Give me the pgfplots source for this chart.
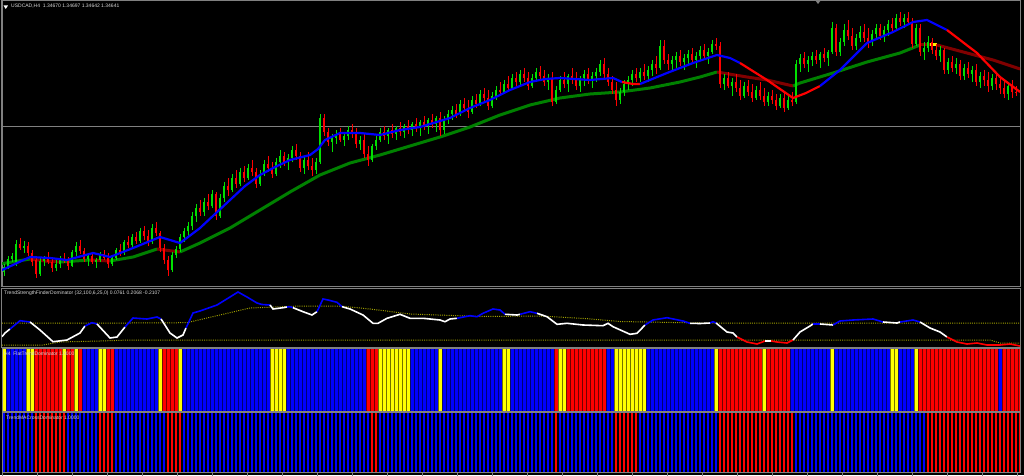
\documentclass[border=0pt]{standalone}
\usepackage{pgfplots}
\pgfplotsset{compat=1.18}
\usepackage{pgfplotstable}
\usepackage{fontspec}
\setmainfont{Liberation Sans}
\definecolor{cgreen}{RGB}{0,225,0}
\definecolor{cred}{RGB}{255,0,0}
\definecolor{mablue}{RGB}{0,0,255}
\definecolor{magreen}{RGB}{0,128,0}
\definecolor{madred}{RGB}{128,0,0}
\definecolor{fr}{RGB}{128,128,128}
\definecolor{lvl}{RGB}{160,160,0}
\definecolor{barblue}{RGB}{0,0,255}
\definecolor{barred}{RGB}{255,0,0}
\definecolor{baryel}{RGB}{255,255,0}
\definecolor{txt}{RGB}{215,215,215}
\pgfdeclareplotmark{nomark}{}
\pgfplotsset{
  panel/.style={
    x=1pt, xmin=2, xmax=1020,
    axis line style={fr, line width=1pt},
    anchor=south west,
    ytick=\empty,
    xtick=\empty,
    clip=true,
  },
  runs/.style={ybar interval, draw=none, fill=#1},
  candle/.style n args={3}{only marks, mark=nomark,
    restrict expr to domain={\thisrow{c}-\thisrow{o}}{#2},
    error bars/.cd, y dir=both, y explicit, error mark=none,
    error bar style={#1, line width=#3}},
}

\pgfplotstableread{
x o h l c
4 14 22 10 19
8 19 30 17 27
12 27 33 24 30
16 24 46 20 42
20 42 48 36 38
24 38 45 33 40
28 40 44 30 33
32 33 36 20 24
36 26 30 8 12
40 12 28 10 25
44 25 30 20 28
48 28 34 22 24
52 24 28 14 18
56 18 26 15 22
60 22 30 18 27
64 27 33 23 25
68 25 29 16 20
72 20 36 19 34
76 34 44 30 40
80 40 46 32 35
84 35 38 24 27
88 27 32 20 30
92 30 34 22 24
96 24 28 18 26
100 26 34 24 32
104 32 36 26 28
108 28 33 18 22
112 22 30 20 28
116 28 38 26 36
120 36 42 30 33
124 33 46 31 44
128 44 50 38 41
132 41 52 39 49
136 49 54 42 45
140 45 58 43 55
144 55 60 46 50
148 50 56 40 44
152 44 62 42 58
156 58 64 50 53
160 53 55 34 38
164 38 42 22 26
168 26 30 10 16
172 16 34 14 31
176 31 40 28 37
180 37 52 34 49
184 49 58 44 55
188 55 64 50 60
192 60 74 56 70
196 70 82 64 78
200 78 86 70 74
204 74 88 70 84
208 84 92 76 80
212 80 96 78 92
216 92 94 66 70
220 70 92 68 88
224 88 104 84 100
228 100 108 90 96
232 96 112 94 108
236 108 116 98 102
240 102 118 100 114
244 114 120 104 108
248 108 122 106 118
252 118 126 110 114
256 114 118 98 102
260 102 116 100 112
264 112 126 110 122
268 122 130 114 118
272 118 124 108 112
276 112 128 110 124
280 124 136 118 130
284 130 134 120 124
288 124 132 116 128
292 128 140 124 136
296 136 142 126 130
300 130 134 114 118
304 118 130 112 126
308 126 134 116 120
312 120 128 110 116
316 116 128 112 124
320 124 172 122 168
324 168 172 150 154
328 154 158 140 144
332 144 152 134 148
336 148 156 142 152
340 152 158 144 146
344 146 154 140 150
348 150 160 146 156
352 156 162 148 152
356 152 158 138 142
360 142 150 136 146
364 146 152 128 132
368 132 140 120 126
372 126 142 124 140
376 140 150 136 146
380 146 158 144 154
384 154 160 146 150
388 150 158 142 156
392 156 162 148 152
396 152 160 146 158
400 158 164 150 154
404 154 162 148 160
408 160 166 152 156
412 156 164 150 162
416 162 168 154 158
420 158 166 150 164
424 164 170 156 160
428 160 168 152 166
432 166 172 158 162
436 162 170 154 168
440 168 174 150 156
444 156 170 152 166
448 166 176 162 172
452 172 180 166 176
456 176 182 168 172
460 172 186 170 182
464 182 188 174 178
468 178 186 168 174
472 174 190 172 186
476 186 192 178 182
480 182 196 180 192
484 192 198 184 188
488 188 196 176 180
492 180 194 178 190
496 190 200 186 196
500 196 204 190 194
504 194 206 192 202
508 202 210 196 198
512 198 212 196 208
516 208 214 200 204
520 204 216 200 212
524 212 218 204 208
528 208 214 196 200
532 200 212 198 208
536 208 218 204 214
540 214 220 206 210
544 210 216 200 204
548 204 212 196 208
552 208 214 180 184
556 184 200 182 196
560 196 210 194 206
564 206 214 198 202
568 202 212 194 210
572 210 218 202 206
576 206 214 196 200
580 200 210 194 208
584 208 216 200 212
588 212 218 202 206
592 206 214 198 210
596 210 218 204 214
600 214 226 210 222
604 222 228 208 212
608 212 218 200 204
612 204 210 192 196
616 196 204 180 186
620 186 198 182 194
624 194 206 190 202
628 202 210 196 206
632 206 216 200 212
636 212 218 204 208
640 208 218 204 214
644 214 222 206 210
648 210 220 204 216
652 216 226 210 222
656 222 230 212 218
660 218 246 216 240
664 240 246 222 226
668 226 232 216 222
672 222 230 214 226
676 226 234 218 230
680 230 236 220 224
684 224 232 216 228
688 228 236 220 232
692 232 238 222 226
696 226 234 218 230
700 230 240 226 236
704 236 242 226 230
708 230 238 222 234
712 234 246 232 242
716 242 248 236 240
720 240 244 198 202
724 202 212 196 208
728 208 214 198 200
732 200 208 190 204
736 204 212 194 198
740 198 206 186 190
744 190 204 188 200
748 200 206 190 194
752 194 202 184 188
756 188 200 186 196
760 196 204 186 190
764 190 198 180 184
768 184 194 180 190
772 190 196 182 186
776 186 192 176 180
780 180 192 178 188
784 188 194 174 178
788 178 190 176 186
792 186 194 180 184
796 184 226 182 222
800 222 232 214 228
804 228 234 218 222
808 222 230 214 226
812 226 234 220 230
816 230 236 222 226
820 226 234 218 232
824 232 238 224 228
828 228 236 220 234
832 234 264 232 258
836 258 262 230 234
840 234 248 230 244
844 244 262 240 256
848 256 266 246 250
852 250 258 236 240
856 240 252 236 248
860 248 260 244 254
864 254 262 244 248
868 248 258 238 244
872 244 256 240 252
876 252 262 246 258
880 258 262 246 250
884 250 260 244 256
888 256 266 250 262
892 262 268 254 258
896 258 272 256 268
900 268 274 260 264
904 264 272 258 268
908 268 274 262 264
912 264 268 238 242
916 242 262 240 258
920 258 262 230 234
924 234 244 226 238
928 238 250 234 244
932 244 248 232 236
936 236 242 226 230
940 230 240 224 236
944 236 238 212 216
948 216 228 212 224
952 224 230 214 218
956 218 228 212 222
960 222 226 206 210
964 210 222 206 218
968 218 224 208 212
972 212 220 204 216
976 216 222 200 204
980 204 214 198 210
984 210 216 200 206
988 206 214 194 200
992 200 212 196 208
996 208 214 196 202
1000 202 210 192 198
1004 198 206 188 192
1008 192 204 186 200
1012 200 206 188 194
1016 194 200 190 193
}\candles

\begin{document}
\begin{tikzpicture}[x=1pt,y=1pt]
\useasboundingbox (0,0) rectangle (1024,475);
\fill[black] (0,0) rectangle (1024,475);

% ---------------- main price panel ----------------
\begin{axis}[panel, at={(2pt,189pt)}, y=1pt, ymin=0, ymax=285]
\addplot[fr, line width=0.8pt] coordinates {(2,160) (1020,160)};
% slow MA
\addplot[magreen, line width=3pt] coordinates {(0,22) (30,27)};
\addplot[madred, line width=3pt] coordinates {(30,27) (45,25) (60,24)};
\addplot[magreen, line width=3pt] coordinates {(60,24) (90,26)};
\addplot[madred, line width=3pt] coordinates {(90,26) (110,25)};
\addplot[magreen, line width=3pt] coordinates {(110,25) (133,29) (157,37)};
\addplot[madred, line width=3pt] coordinates {(157,37) (180,34)};
\addplot[magreen, line width=3pt] coordinates {(180,34) (200,43) (230,58) (260,76) (290,94) (320,111) (350,123) (380,131) (410,140) (440,149) (470,159) (500,171) (530,181) (560,188) (590,192) (620,194) (650,198) (680,204) (700,209) (717,214)};
\addplot[madred, line width=3pt] coordinates {(717,214) (747,209) (767,206) (793,200)};
\addplot[magreen, line width=3pt] coordinates {(793,200) (800,203) (833,213) (867,224) (900,233) (920,241)};
\addplot[madred, line width=3pt] coordinates {(920,241) (930,241)};
\addplot[yellow, line width=3pt] coordinates {(930,241) (937,241)};
\addplot[madred, line width=3pt] coordinates {(937,241) (967,233) (993,226) (1020,217)};
% candles: wicks and bodies
\addplot[candle={cgreen}{0:1000}{1pt}] table[x=x, y=c, y error plus expr=\thisrow{h}-\thisrow{c}, y error minus expr=\thisrow{c}-\thisrow{l}] {\candles};
\addplot[candle={cgreen}{0:1000}{2.8pt}] table[x=x, y=c, y error plus expr=0, y error minus expr=\thisrow{c}-\thisrow{o}] {\candles};
\addplot[candle={cred}{-1000:-0.5}{1pt}] table[x=x, y=c, y error plus expr=\thisrow{h}-\thisrow{c}, y error minus expr=\thisrow{c}-\thisrow{l}] {\candles};
\addplot[candle={cred}{-1000:-0.5}{2.8pt}] table[x=x, y=c, y error plus expr=\thisrow{o}-\thisrow{c}, y error minus expr=0] {\candles};
% fast MA
\addplot[mablue, line width=2.2pt] coordinates {(0,15) (30,29) (50,28) (67,26) (93,33) (110,29) (133,38) (160,49) (180,43) (200,58) (215,72) (230,86) (245,100) (260,111) (275,119) (290,126) (310,131) (318,137) (325,146) (340,153) (360,153) (380,151) (400,156) (420,159) (450,168) (470,178) (490,186) (510,196) (530,204) (545,207) (560,208) (590,206) (613,208) (622,204)};
\addplot[cred, line width=2.2pt] coordinates {(622,204) (633,202) (640,202)};
\addplot[mablue, line width=2.2pt] coordinates {(640,202) (667,213) (693,223) (717,231) (730,228) (740,223)};
\addplot[cred, line width=2.2pt] coordinates {(740,223) (767,206) (793,188) (806,193) (820,200)};
\addplot[mablue, line width=2.2pt] coordinates {(820,200) (840,216) (867,243) (893,254) (913,264) (927,266) (947,256)};
\addplot[cred, line width=2.2pt] coordinates {(947,256) (977,233) (1000,209) (1020,194)};
\end{axis}

% ---------------- oscillator panel ----------------
\begin{axis}[panel, at={(2pt,128pt)}, y=1pt, ymin=0, ymax=59]
\addplot[lvl, line width=1pt, dash pattern=on 1pt off 1.2pt] coordinates {(2,24) (130,24) (187,24.3) (220,32) (250,39) (300,41) (340,41) (370,38) (410,33) (480,30.5) (540,31) (585,28.5) (620,25.5) (700,24) (1020,24)};
\addplot[lvl, line width=1pt, dash pattern=on 1pt off 1.2pt] coordinates {(2,2) (43,2) (60,5) (100,6) (130,7) (250,7) (700,7) (990,7) (1000,4) (1020,4)};
\addplot[white, line width=1.6pt] coordinates {(2,10.3) (5,14) (10,18)};
\addplot[mablue, line width=1.6pt] coordinates {(10,18) (20,26.3) (30,25)};
\addplot[white, line width=1.6pt] coordinates {(30,25) (40,17) (53,5.3) (67,7) (80,14) (85,21)};
\addplot[mablue, line width=1.6pt] coordinates {(85,21) (92,24.3) (97,23)};
\addplot[white, line width=1.6pt] coordinates {(97,23) (110,9) (117,10) (125,20)};
\addplot[mablue, line width=1.6pt] coordinates {(125,20) (133,29) (147,28) (157,30) (161,28)};
\addplot[white, line width=1.6pt] coordinates {(161,28) (163,25) (170,14) (177,9) (183,12) (186,19)};
\addplot[mablue, line width=1.6pt] coordinates {(186,19) (193,34) (200,36) (217,42) (230,50) (238,55) (247,50) (257,44) (262,42.5) (270,42)};
\addplot[white, line width=1.6pt] coordinates {(270,42) (273,38) (283,39.3) (287,40)};
\addplot[mablue, line width=1.6pt] coordinates {(287,40) (290,40.3) (293,39.3)};
\addplot[white, line width=1.6pt] coordinates {(293,39.3) (303,35.3) (312,32) (317,35.3)};
\addplot[mablue, line width=1.6pt] coordinates {(317,35.3) (323,48) (328,47) (337,44.7) (342,40.3)};
\addplot[white, line width=1.6pt] coordinates {(342,40.3) (350,38) (363,32) (373,23.7) (378,23.7) (387,28.7) (400,32.7) (410,28.7) (423,28.7) (440,27) (445,25.3) (450,28) (457,28.7)};
\addplot[mablue, line width=1.6pt] coordinates {(457,28.7) (470,31.3) (477,30.3) (483,33.7) (493,38) (500,37) (505,32.7)};
\addplot[white, line width=1.6pt] coordinates {(505,32.7) (517,32) (520,32.7)};
\addplot[mablue, line width=1.6pt] coordinates {(520,32.7) (530,35.3) (537,33.7)};
\addplot[white, line width=1.6pt] coordinates {(537,33.7) (547,30.3) (557,22.7) (567,23.7) (583,22) (603,21.3) (608,23.7) (613,20.3) (630,12.7) (637,13.7) (645,22)};
\addplot[mablue, line width=1.6pt] coordinates {(645,22) (653,27) (667,29.3) (683,26) (690,23.7)};
\addplot[white, line width=1.6pt] coordinates {(690,23.7) (700,23.5) (710,24)};
\addplot[mablue, line width=1.6pt] coordinates {(710,24) (713,25.3) (716,24)};
\addplot[white, line width=1.6pt] coordinates {(716,24) (727,15) (733,14) (737,10)};
\addplot[cred, line width=1.6pt] coordinates {(737,10) (747,5) (757,3) (765,6)};
\addplot[white, line width=1.6pt] coordinates {(765,6) (771,6)};
\addplot[cred, line width=1.6pt] coordinates {(771,6) (777,5) (787,4) (793,7)};
\addplot[white, line width=1.6pt] coordinates {(793,7) (800,15) (810,21) (813,23)};
\addplot[mablue, line width=1.6pt] coordinates {(813,23) (820,23)};
\addplot[white, line width=1.6pt] coordinates {(820,23) (833,22)};
\addplot[mablue, line width=1.6pt] coordinates {(833,22) (840,26) (853,27) (873,28) (883,25)};
\addplot[white, line width=1.6pt] coordinates {(883,25) (897,24) (900,25)};
\addplot[mablue, line width=1.6pt] coordinates {(900,25) (913,27) (920,25)};
\addplot[white, line width=1.6pt] coordinates {(920,25) (930,19) (940,15) (947,10)};
\addplot[cred, line width=1.6pt] coordinates {(947,10) (957,5) (967,3) (977,4) (987,2) (1000,2) (1010,3) (1020,1)};
\end{axis}

% ---------------- flat trend panel ----------------
\begin{axis}[panel, at={(2pt,63.5pt)}, y=63pt, ymin=0, ymax=1, axis on top,
  xtick={2,6,...,1018}, xticklabel=\empty, major tick length=0pt,
  xmajorgrids, major x grid style={black, opacity=0.55, line width=0.6pt}]
\addplot[runs=barblue] coordinates {(6,1) (26,0) (82,1) (98,0) (114,1) (158,0) (182,1) (270,0) (286,1) (366,0) (410,1) (438,0) (442,1) (502,0) (510,1) (554,0) (606,1) (614,0) (646,1) (714,0) (790,1) (830,0) (834,1) (890,0) (898,1) (914,0) (998,1) (1002,0)};
\addplot[runs=barred] coordinates {(34,1) (62,0) (66,1) (74,0) (78,1) (82,0) (106,1) (114,0) (162,1) (178,0) (366,1) (378,0) (554,1) (558,0) (566,1) (606,0) (718,1) (762,0) (766,1) (790,0) (918,1) (998,0) (1002,1) (1020,0)};
\addplot[runs=baryel] coordinates {(2,1) (6,0) (26,1) (34,0) (62,1) (66,0) (74,1) (78,0) (98,1) (106,0) (158,1) (162,0) (178,1) (182,0) (270,1) (286,0) (378,1) (410,0) (438,1) (442,0) (502,1) (510,0) (558,1) (566,0) (614,1) (646,0) (714,1) (718,0) (762,1) (766,0) (830,1) (834,0) (890,1) (898,0) (914,1) (918,0)};
\end{axis}

% ---------------- MA cross panel ----------------
\begin{axis}[panel, at={(2pt,2.5pt)}, y=60pt, ymin=0, ymax=1, axis on top,
  xtick={2,6,...,1018}, xticklabel=\empty, major tick length=0pt,
  xmajorgrids, major x grid style={black, line width=1.2pt},
  extra x ticks={2,37,...,1017}, extra x tick labels={},
  extra x tick style={xmajorgrids=false, major tick length=3pt, tick align=outside, xtick pos=left, tick style={fr, line width=0.8pt}}]
\addplot[runs=barblue] coordinates {(2,1) (34,0) (66,1) (98,0) (114,1) (166,0) (182,1) (370,0) (378,1) (554,0) (558,1) (614,0) (638,1) (718,0) (794,1) (926,0)};
\addplot[runs=barred] coordinates {(34,1) (66,0) (98,1) (114,0) (166,1) (182,0) (370,1) (378,0) (554,1) (558,0) (614,1) (638,0) (718,1) (794,0) (926,1) (1020,0)};
\end{axis}

% ---------------- labels ----------------
\fill[white] (3.5,469.5) -- (8,469.5) -- (5.75,466) -- cycle;
\node[anchor=west, inner sep=0pt, text=txt, font=\fontsize{5}{6}\selectfont] at (11,468.5) {USDCAD,H4\ \ 1.34670 1.34697 1.34642 1.34641};
\node[anchor=west, inner sep=0pt, text=txt, font=\fontsize{5}{6}\selectfont] at (4,182) {TrendStrengthFinderDominator (32,100,6,25,0) 0.0761 0.2068 -0.2107};
\node[anchor=west, inner sep=0pt, text=txt, font=\fontsize{5}{6}\selectfont] at (4,121) {H4\ \ FlatTrendDominator 1.0000};
\node[anchor=west, inner sep=0pt, text=txt, font=\fontsize{5}{6}\selectfont] at (6,57.5) {TrendMACrossDominator 1.0000};
\fill[fr] (815,475) -- (821,475) -- (818,471) -- cycle;
\end{tikzpicture}
\end{document}
